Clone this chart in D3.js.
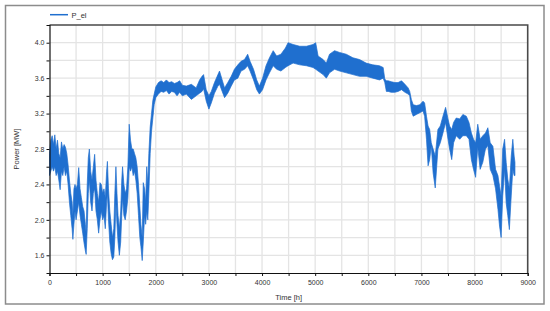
<!DOCTYPE html>
<html>
<head>
<meta charset="utf-8">
<script src="https://cdn.jsdelivr.net/npm/d3@7/dist/d3.min.js"></script>
<style>
html,body{margin:0;padding:0;background:#fff;}
svg{display:block;}
text{font-family:"Liberation Sans",Arial,sans-serif;}
</style>
</head>
<body>
<svg id="chart" width="550" height="311"></svg>
<script>
// ---- data: hour, lower and upper envelope of P_el [MW]
const hours = [0,25,50,75,100,125,150,175,200,225,250,275,300,325,350,375,400,425,440,460,480,500,525,550,575,600,625,650,675,690,710,730,750,775,800,825,850,875,900,925,950,975,1000,1025,1050,1075,1090,1110,1135,1160,1185,1210,1230,1250,1270,1290,1315,1340,1360,1375,1400,1425,1450,1475,1500,1525,1550,1575,1600,1625,1650,1675,1700,1720,1745,1765,1790,1810,1830,1850,1870,1895,1920,1945,1970,
2000,2050,2100,2150,2200,2250,2300,2350,2400,2450,2500,2575,2670,2760,2825,2870,2900,2950,3000,3045,3105,3170,3200,3250,3295,3355,3420,3480,3545,3605,3670,3730,3775,3840,3900,3950,4010,4075,4140,4210,4275,4355,4440,4490,4585,4710,4835,4960,5010,5055,5150,5210,5270,5365,5460,5585,5710,5835,5960,6085,6210,6280,6310,6340,6375,6430,6500,6560,6625,6690,6750,6780,6810,6845,6905,6970,7030,7060,7095,7125,7155,7185,7220,7260,7310,7355,7405,7455,7500,7530,7570,7605,7655,7720,7780,7845,7895,7940,7980,8020,8060,8105,8155,8205,8250,8295,8345,8395,8440,8470,8500,8530,8565,8595,8625,8655,8690,8720,8745,8760];
const powerLow = [2.50,2.55,2.60,2.55,2.60,2.50,2.55,2.45,2.34,2.55,2.50,2.60,2.50,2.55,2.40,2.20,2.05,1.90,1.78,1.95,2.10,2.00,2.10,2.20,2.05,1.95,1.85,1.74,1.65,1.61,1.90,2.30,2.45,2.20,2.10,2.30,2.35,2.10,2.00,1.85,2.00,2.10,2.00,2.05,1.90,2.20,2.30,2.00,1.75,1.62,1.55,1.58,1.80,2.20,1.95,1.75,1.60,1.75,2.05,2.25,2.05,2.00,2.10,2.25,2.60,2.55,2.60,2.50,2.55,2.45,2.30,2.05,1.80,1.70,1.54,1.75,2.05,1.95,2.10,2.00,2.30,2.75,3.00,3.15,3.30,
3.38,3.42,3.45,3.44,3.46,3.42,3.45,3.44,3.40,3.44,3.40,3.42,3.36,3.40,3.43,3.45,3.48,3.34,3.25,3.32,3.43,3.51,3.53,3.45,3.38,3.43,3.51,3.58,3.60,3.68,3.70,3.74,3.68,3.58,3.47,3.42,3.47,3.58,3.66,3.74,3.70,3.68,3.72,3.74,3.77,3.75,3.74,3.72,3.70,3.68,3.64,3.60,3.66,3.70,3.68,3.66,3.64,3.62,3.62,3.60,3.58,3.60,3.55,3.45,3.45,3.44,3.44,3.45,3.47,3.44,3.42,3.40,3.23,3.17,3.19,3.21,3.23,3.17,2.91,2.61,2.68,2.84,2.53,2.36,2.80,2.87,2.98,3.10,2.91,2.80,2.68,2.87,2.95,2.91,2.95,2.95,2.91,2.68,2.57,2.48,2.82,2.57,2.65,2.80,2.84,2.57,2.50,2.35,2.12,1.93,1.80,2.27,2.57,2.19,2.05,1.89,2.27,2.57,2.50,2.50];
const powerHigh = [2.75,2.90,2.95,2.85,2.96,2.80,2.90,2.75,2.70,2.88,2.80,2.85,2.82,2.75,2.62,2.45,2.30,2.20,2.05,2.35,2.40,2.35,2.40,2.59,2.35,2.25,2.15,2.10,1.95,1.85,2.40,2.70,2.80,2.55,2.45,2.60,2.74,2.45,2.30,2.20,2.42,2.40,2.30,2.35,2.25,2.55,2.66,2.35,2.10,1.95,1.80,1.90,2.30,2.60,2.30,2.05,1.90,2.10,2.45,2.60,2.40,2.30,2.35,2.60,3.08,2.90,2.80,2.80,2.75,2.70,2.60,2.40,2.15,1.95,1.80,2.42,2.35,2.20,2.60,2.40,2.75,3.05,3.20,3.35,3.42,
3.50,3.55,3.57,3.55,3.58,3.55,3.56,3.54,3.55,3.57,3.52,3.51,3.53,3.49,3.58,3.62,3.64,3.47,3.40,3.45,3.55,3.64,3.68,3.58,3.49,3.55,3.62,3.70,3.75,3.79,3.81,3.87,3.79,3.70,3.58,3.51,3.60,3.74,3.83,3.91,3.85,3.87,3.94,4.00,3.98,3.96,3.96,3.98,4.00,3.85,3.81,3.77,3.87,3.91,3.89,3.87,3.83,3.81,3.77,3.75,3.74,3.72,3.59,3.57,3.57,3.56,3.55,3.55,3.57,3.53,3.49,3.45,3.36,3.30,3.29,3.30,3.34,3.32,3.17,3.06,3.02,2.87,2.80,2.72,3.02,3.06,3.17,3.27,3.14,3.06,3.02,3.10,3.15,3.14,3.19,3.17,3.10,2.98,2.91,2.87,3.08,2.91,2.95,2.98,3.04,2.87,2.83,2.57,2.50,2.38,2.27,2.80,2.91,2.65,2.46,2.35,2.72,2.91,2.72,2.65];
const xTicks = [0,1000,2000,3000,4000,5000,6000,7000,8000,9000];
const yTicks = [1.6,2.0,2.4,2.8,3.2,3.6,4.0];
const seriesName = "P_el";
const xTitle = "Time [h]";
const yTitle = "Power [MW]";

// ---- layout
const svg = d3.select("#chart");
const L = 49.5, R = 527.7, T = 25, B = 273;
const blue = "#1f6fcf";

const x = d3.scaleLinear().domain([0, 9000]).range([L, R]);
const y = d3.scaleLinear().domain([1.4, 4.2]).range([B, T]);

// outer frame
svg.append("rect").attr("x", 5.5).attr("y", 5.5).attr("width", 538.5).attr("height", 298.5)
  .attr("fill", "#fff").attr("stroke", "#8c8c8c").attr("stroke-width", 1.5);

// grid
const gx = d3.range(500, 9000, 500), gy = d3.range(1.6, 4.19, 0.2);
svg.append("g").selectAll("line").data(gx).join("line")
  .attr("x1", d => x(d)).attr("x2", d => x(d)).attr("y1", T).attr("y2", B)
  .attr("stroke", "#e4e4e4").attr("stroke-width", 1.3);
svg.append("g").selectAll("line").data(gy).join("line")
  .attr("y1", d => y(d)).attr("y2", d => y(d)).attr("x1", L).attr("x2", R)
  .attr("stroke", "#e4e4e4").attr("stroke-width", 1.3);

// series envelope
const pts = hours.map((h, i) => ({h, lo: powerLow[i], hi: powerHigh[i]}));
const area = d3.area().x(d => x(d.h)).y0(d => y(d.lo)).y1(d => y(d.hi));
svg.append("path").datum(pts).attr("d", area)
  .attr("fill", blue).attr("stroke", blue).attr("stroke-width", 0.7).attr("stroke-linejoin", "round");

// top/right frame of plot
svg.append("path").attr("d", `M${L},${T}H${R}V${B}`)
  .attr("fill", "none").attr("stroke", "#4a4a4a").attr("stroke-width", 1.6);

// axes
const xAxis = d3.axisBottom(x).tickValues(d3.range(0, 9001, 500)).tickSize(3)
  .tickFormat(d => xTicks.includes(d) ? d : "");
const gX = svg.append("g").attr("transform", `translate(0,${B})`).call(xAxis);
const yAxis = d3.axisLeft(y).tickValues(d3.range(1.6, 4.19, 0.2).map(v => +v.toFixed(1))).tickSize(3)
  .tickFormat(d => yTicks.some(t => Math.abs(t - d) < 1e-6) ? d3.format(".1f")(d) : "");
const gY = svg.append("g").attr("transform", `translate(${L},0)`).call(yAxis);
[gX, gY].forEach(g => {
  g.select(".domain").attr("stroke", "#111").attr("stroke-width", 1.2);
  g.selectAll(".tick line").attr("stroke", "#111");
  g.selectAll("text").attr("fill", "#333").attr("font-size", 7).attr("font-family", "Liberation Sans, Arial, sans-serif");
});
gX.selectAll("text").attr("dy", "0.9em");
gY.selectAll("text").attr("x", -5);

// titles
svg.append("text").attr("x", (L + R) / 2).attr("y", 299.5).attr("text-anchor", "middle")
  .attr("font-size", 7.5).attr("fill", "#333").text(xTitle);
svg.append("text").attr("transform", `translate(18.5,${(T + B) / 2}) rotate(-90)`).attr("text-anchor", "middle")
  .attr("font-size", 7.5).attr("fill", "#333").text(yTitle);

// legend
svg.append("line").attr("x1", 50).attr("x2", 68).attr("y1", 14.7).attr("y2", 14.7)
  .attr("stroke", blue).attr("stroke-width", 1.5);
svg.append("text").attr("x", 71.5).attr("y", 17.5).attr("font-size", 7.5).attr("fill", "#333").text(seriesName);
</script>
</body>
</html>
